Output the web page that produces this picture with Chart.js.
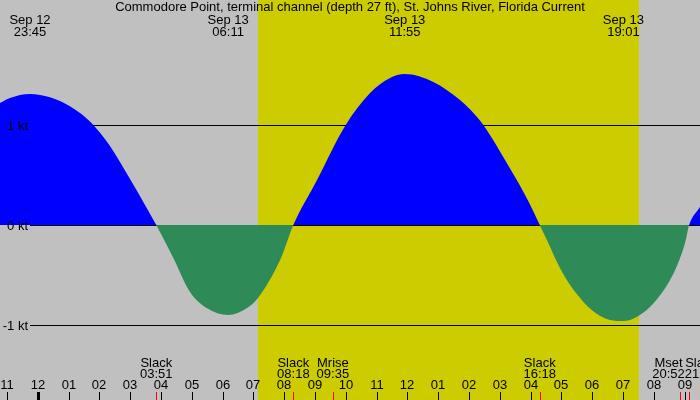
<!DOCTYPE html>
<html>
<head>
<meta charset="utf-8">
<script src="https://cdn.jsdelivr.net/npm/chart.js@4.4.1/dist/chart.umd.min.js"></script>
<style>
html, body { margin: 0; padding: 0; background: #c0c0c0; }
#wrap { width: 700px; height: 400px; }
</style>
</head>
<body>
<div id="wrap"><canvas id="chart" width="700" height="400"></canvas></div>
<script>
// hours are counted from Sep 13 00:00 (negative = Sep 12)
const curveHours = [-1.224, -0.90, -0.25, 0.075, 0.724, 1.373, 1.805, 2.347, 2.997, 3.539, 3.85,
  4.403, 4.945, 5.487, 6.183, 6.80, 7.15, 7.87, 8.30,
  9.07, 9.98, 10.79, 11.44, 11.917, 12.844, 13.711, 14.058, 14.468, 14.847, 15.172, 15.497, 15.789, 16.071, 16.30,
  16.578, 16.828, 17.12, 17.477, 17.987, 18.581, 19.017, 19.773, 20.26, 20.584, 20.831, 21.016, 21.15, 21.503];
const curveKnots = [1.22, 1.27, 1.31, 1.30, 1.24, 1.12, 1.00, 0.79, 0.46, 0.17, 0.00,
  -0.33, -0.67, -0.83, -0.90, -0.83, -0.73, -0.35, 0.00,
  0.45, 0.99, 1.32, 1.47, 1.51, 1.43, 1.25, 1.15, 1.00, 0.82, 0.65, 0.48, 0.32, 0.15, 0.00,
  -0.18, -0.35, -0.52, -0.68, -0.85, -0.95, -0.96, -0.85, -0.68, -0.52, -0.35, -0.18, 0.00, 0.18];

const title = "Commodore Point, terminal channel (depth 27 ft), St. Johns River, Florida Current";

// max flood / max ebb labels along the top
const peakHours = [-0.25, 6.183, 11.917, 19.017];
const peakDates = ["Sep 12", "Sep 13", "Sep 13", "Sep 13"];
const peakTimes = ["23:45", "06:11", "11:55", "19:01"];

// slack water and moon events along the bottom
const eventHours = [3.85, 8.30, 9.583, 16.30, 20.867, 21.15];
const eventNames = ["Slack", "Slack", "Mrise", "Slack", "Mset", "Slack"];
const eventTimes = ["03:51", "08:18", "09:35", "16:18", "20:52", "21:09"];

// daylight: sunrise, sunset
const sunHours = [7.15, 19.52];

const hourTicks = [-1, 0, 1, 2, 3, 4, 5, 6, 7, 8, 9, 10, 11, 12, 13, 14, 15, 16, 17, 18, 19, 20, 21];
const hourLabels = ["11", "12", "01", "02", "03", "04", "05", "06", "07", "08", "09", "10",
  "11", "12", "01", "02", "03", "04", "05", "06", "07", "08", "09"];

const knotLevels = [1, 0, -1];
const knotLabels = ["1 kt", "0 kt", "-1 kt"];

const FONT = "13px 'Liberation Sans', Arial, sans-serif";

const tidePlugin = {
  id: "tide",
  beforeDraw(chart) {
    const ctx = chart.ctx, x = chart.scales.x;
    ctx.save();
    ctx.fillStyle = "#c0c0c0";
    ctx.fillRect(0, 0, chart.width, chart.height);
    const x0 = x.getPixelForValue(sunHours[0]);
    const x1 = x.getPixelForValue(sunHours[1]);
    ctx.fillStyle = "#cccc00";
    ctx.fillRect(x0, 0, x1 - x0, chart.height);
    ctx.restore();
  },
  beforeDatasetsDraw(chart) {
    const ctx = chart.ctx, y = chart.scales.y;
    ctx.save();
    ctx.strokeStyle = "#000";
    ctx.lineWidth = 1;
    knotLevels.forEach(v => {
      const py = Math.round(y.getPixelForValue(v)) + 0.5;
      ctx.beginPath();
      ctx.moveTo(30, py);
      ctx.lineTo(chart.width, py);
      ctx.stroke();
    });
    ctx.restore();
  },
  afterDatasetsDraw(chart) {
    const ctx = chart.ctx, x = chart.scales.x, y = chart.scales.y;
    ctx.save();
    ctx.font = FONT;
    ctx.fillStyle = "#000";

    // knot labels
    ctx.textAlign = "right";
    ctx.textBaseline = "alphabetic";
    knotLevels.forEach((v, i) => {
      ctx.fillText(knotLabels[i], 28, y.getPixelForValue(v) + 5);
    });

    // title
    ctx.textAlign = "center";
    ctx.fillText(title, chart.width / 2, 11);

    // peaks
    peakHours.forEach((h, i) => {
      const px = x.getPixelForValue(h);
      ctx.fillText(peakDates[i], px, 24);
      ctx.fillText(peakTimes[i], px, 36);
    });

    // event labels, pushed apart when they overlap
    const centers = eventHours.map(h => x.getPixelForValue(h));
    const widths = eventNames.map((n, i) => Math.max(ctx.measureText(n).width, ctx.measureText(eventTimes[i]).width));
    for (let i = 0; i < centers.length - 1; i++) {
      const overlap = (centers[i] + widths[i] / 2) - (centers[i + 1] - widths[i + 1] / 2);
      if (overlap > 0) {
        centers[i] -= overlap / 2;
        centers[i + 1] += overlap / 2;
      }
    }
    centers.forEach((cx, i) => {
      ctx.fillText(eventNames[i], cx, 367);
      ctx.fillText(eventTimes[i], cx, 378);
    });

    // hour ticks
    hourTicks.forEach((h, i) => {
      const px = Math.round(x.getPixelForValue(h));
      ctx.fillStyle = "#000";
      ctx.fillText(hourLabels[i], px, 389);
      if (h === 0) ctx.fillRect(px - 1, 392, 3, 8);
      else ctx.fillRect(px, 392, 1, 8);
    });

    // event ticks
    ctx.fillStyle = "#ff0000";
    eventHours.forEach(h => {
      const px = Math.round(x.getPixelForValue(h));
      ctx.fillRect(px, 392, 1, 8);
    });
    ctx.restore();
  }
};

new Chart(document.getElementById("chart"), {
  type: "line",
  data: {
    datasets: [{
      data: curveHours.map((h, i) => ({ x: h, y: curveKnots[i] })),
      borderWidth: 0,
      borderColor: "rgba(0,0,0,0)",
      pointRadius: 0,
      cubicInterpolationMode: "monotone",
      fill: { target: "origin", above: "#0000ff", below: "#2e8b57" }
    }]
  },
  options: {
    responsive: false,
    animation: false,
    devicePixelRatio: 1,
    layout: { padding: 0 },
    plugins: { legend: { display: false }, tooltip: { enabled: false } },
    scales: {
      x: { type: "linear", display: false, min: -1.224, max: 21.503 },
      y: { type: "linear", display: false, min: -1.75, max: 2.25 }
    }
  },
  plugins: [tidePlugin]
});
</script>
</body>
</html>
